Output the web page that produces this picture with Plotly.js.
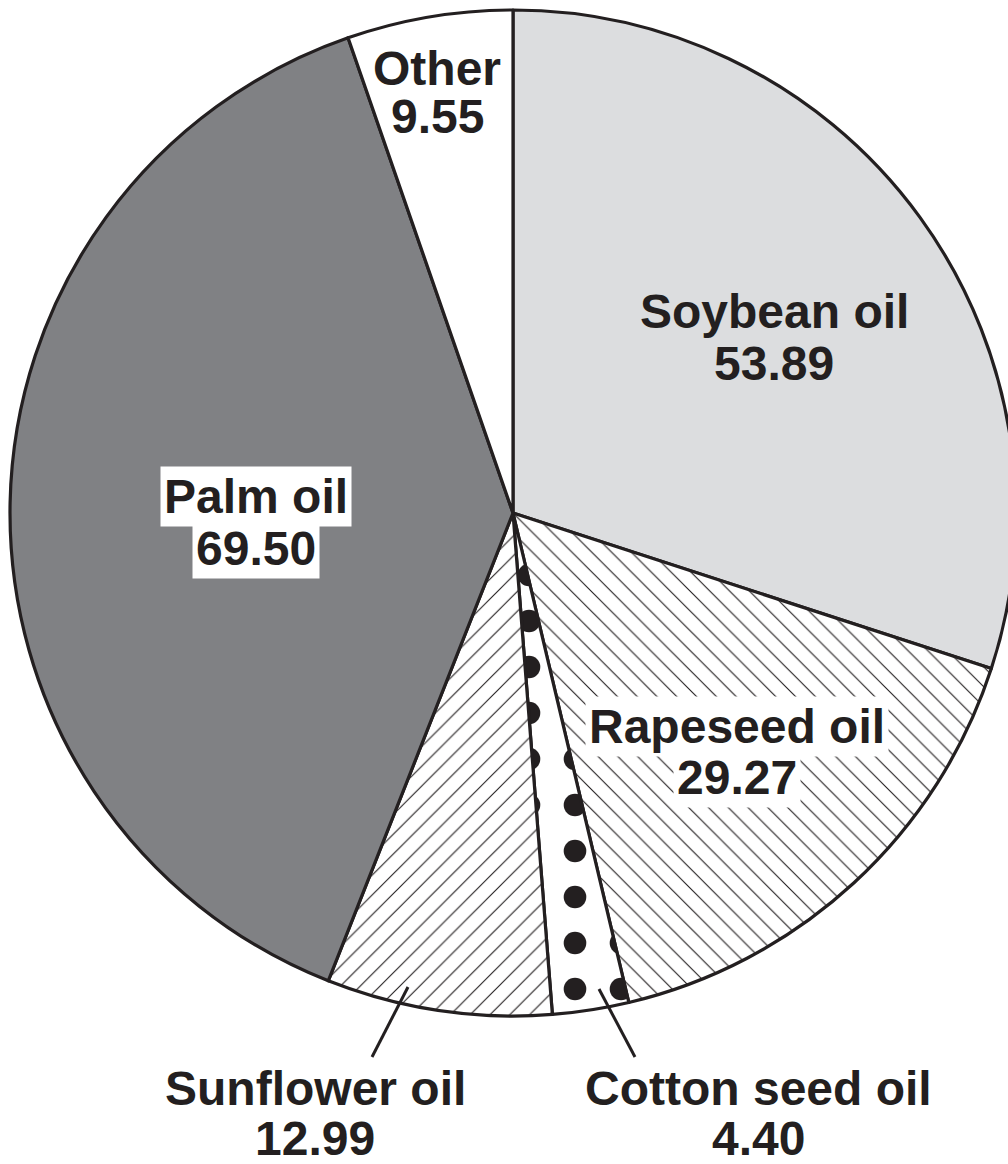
<!DOCTYPE html>
<html>
<head>
<meta charset="utf-8">
<script src="https://cdn.plot.ly/plotly-3.0.1.min.js"></script>
<style>
  html, body { margin: 0; padding: 0; overflow: hidden; background: #ffffff; }
  #chart { width: 1026px; height: 1164px; }
</style>
</head>
<body>
<div id="chart"></div>
<script>
// ---- data ----
const categories = ['Soybean oil', 'Rapeseed oil', 'Cotton seed oil', 'Sunflower oil', 'Palm oil', 'Other'];
const values = [53.89, 29.27, 4.40, 12.99, 69.50, 9.55];
const valueLabels = ['53.89', '29.27', '4.40', '12.99', '69.50', '9.55'];

// ---- styles ----
const fillColors = ['#dcdddf', '#ffffff', '#ffffff', '#ffffff', '#808184', '#ffffff'];
const patternShapes = ['', '\\', '.', '/', '', ''];
const patternSizes = [14, 14, 46, 14, 14, 14];
const patternSolidity = [0.08, 0.08, 0.19, 0.08, 0.08, 0.08];
const ink = '#231f20';

// label placement (layout, px): block centre x, baselines of the two lines, background,
// optional leader line [x0, y0, x1, y1]
const labelStyle = [
  {x: 774, b: [328, 380], bg: null},
  {x: 737, b: [743, 794], bg: '#ffffff'},
  {x: 758, b: [1105, 1155], bg: null, l: [599, 989, 635, 1057]},
  {x: 315, b: [1105, 1155], bg: null, l: [408, 987, 372, 1057]},
  {x: 256, b: [513, 565], bg: '#ffffff'},
  {x: 437, b: [85, 133], bg: null}
];

const W = 1026, H = 1164;
const CX = 513, CY = 513, R = 503;
const BASE_TO_MID = 16.8;

const font = {family: 'Liberation Sans, Arial, Helvetica, sans-serif', size: 48, color: ink, weight: 'bold'};

const annotations = [];
const shapes = [];
categories.forEach((cat, i) => {
  const st = labelStyle[i];
  if (st.l) {
    shapes.push({
      type: 'line', xref: 'paper', yref: 'paper',
      x0: st.l[0] / W, y0: 1 - st.l[1] / H, x1: st.l[2] / W, y1: 1 - st.l[3] / H,
      line: {color: ink, width: 3}
    });
  }
  [cat, valueLabels[i]].forEach((t, k) => {
    const py = st.b[k] - BASE_TO_MID;
    const a = {
      xref: 'paper', yref: 'paper', x: st.x / W, y: 1 - py / H,
      xanchor: 'center', yanchor: 'middle', showarrow: false,
      text: '<b>' + t + '</b>', font: font, borderpad: st.bg ? 3 : 0
    };
    if (st.bg) a.bgcolor = st.bg;
    annotations.push(a);
  });
});

const trace = {
  type: 'pie',
  labels: categories,
  values: values,
  sort: false,
  direction: 'clockwise',
  rotation: 0,
  textinfo: 'none',
  hoverinfo: 'none',
  showlegend: false,
  domain: {x: [(CX - R) / W, (CX + R) / W], y: [1 - (CY + R) / H, 1 - (CY - R) / H]},
  marker: {
    colors: fillColors,
    line: {color: ink, width: 3.2},
    pattern: {
      shape: patternShapes,
      fgcolor: ink,
      bgcolor: '#ffffff',
      size: patternSizes,
      solidity: patternSolidity,
      fillmode: 'replace'
    }
  }
};

const layout = {
  width: W, height: H,
  margin: {l: 0, r: 0, t: 0, b: 0, pad: 0},
  paper_bgcolor: '#ffffff',
  plot_bgcolor: '#ffffff',
  showlegend: false,
  annotations: annotations,
  shapes: shapes
};

Plotly.newPlot('chart', [trace], layout, {staticPlot: true, displayModeBar: false});
</script>
</body>
</html>
